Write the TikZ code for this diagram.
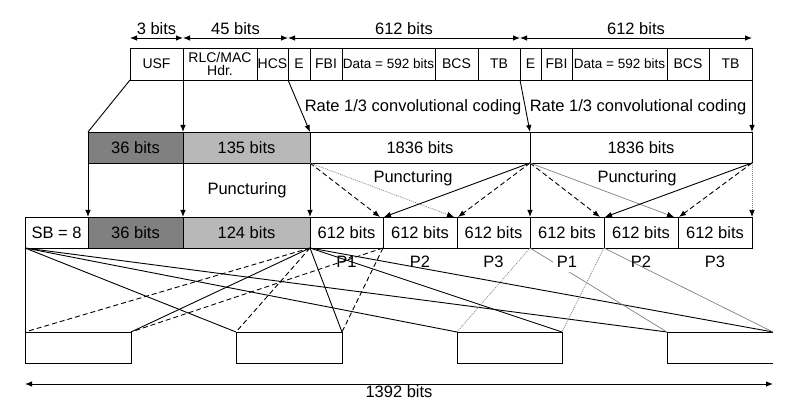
\documentclass[tikz,border=0pt]{standalone}
\usepackage{fontspec}
\setmainfont{Liberation Sans}
\usetikzlibrary{arrows.meta, calc, positioning}
\definecolor{darkfill}{gray}{0.5}
\definecolor{lightfill}{gray}{0.72}
\newcommand{\bigtxt}{\fontsize{16.5}{18}\selectfont}
\newcommand{\midtxt}{\fontsize{14}{14}\selectfont}
\newcommand{\smalltxt}{\fontsize{13.5}{14}\selectfont}

\begin{document}
\begin{tikzpicture}[x=1pt, y=-1pt, line width=0.9pt,
        >={Latex[length=7pt,width=5.5pt]},
        cell/.style={draw, minimum height=31pt, inner sep=0pt, outer sep=0pt, anchor=north west, font=\bigtxt},
        hcell/.style={cell, minimum height=32pt, font=\midtxt},
        dashline/.style={dash pattern=on 5pt off 3pt},
        dotline/.style={gray, line width=0.7pt, dash pattern=on 1pt off 1pt},
        thinline/.style={gray, line width=0.7pt},
        darktip/.style={-{Latex[length=7pt,width=5.5pt,color=black]}},
        plabel/.style={font=\bigtxt, below=4pt of #1}]
    \useasboundingbox (0,0) rectangle (798,403);

    % radio block
    \node[hcell, minimum width=53pt] (usf) at (130,48) {USF};
    \node[hcell, minimum width=74pt, align=center, font=\fontsize{14}{13}\selectfont] (hdr) at (usf.north east) {RLC/MAC\\Hdr.};
    \node[hcell, minimum width=31pt] (hcs) at (hdr.north east) {HCS};
    \node[hcell, minimum width=22pt] (ea) at (hcs.north east) {E};
    \node[hcell, minimum width=32pt] (fbia) at (ea.north east) {FBI};
    \node[hcell, minimum width=93pt, font=\smalltxt] (dataa) at (fbia.north east) {Data = 592 bits};
    \node[hcell, minimum width=43pt] (bcsa) at (dataa.north east) {BCS};
    \node[hcell, minimum width=42pt] (tba) at (bcsa.north east) {TB};
    \node[hcell, minimum width=21pt] (eb) at (tba.north east) {E};
    \node[hcell, minimum width=31pt] (fbib) at (eb.north east) {FBI};
    \node[hcell, minimum width=95pt, font=\smalltxt] (datab) at (fbib.north east) {Data = 592 bits};
    \node[hcell, minimum width=42pt] (bcsb) at (datab.north east) {BCS};
    \node[hcell, minimum width=43pt] (tbb) at (bcsb.north east) {TB};

    \coordinate (m0) at ($(usf.north west)+(0,-10)$);
    \coordinate (m1) at ($(usf.north east)+(0,-10)$);
    \coordinate (m2) at ($(hcs.north east)+(0,-10)$);
    \coordinate (m3) at ($(tba.north east)+(0,-10)$);
    \coordinate (m4) at ($(tbb.north east)+(0,-10)$);
    \draw[<->] (m0) -- node[above, font=\bigtxt] (n3) {3 bits} (m1);
    \draw[<->] (m1) -- node[above, font=\bigtxt] (n45) {45 bits} (m2);
    \draw[<->] (m2) -- node[above, font=\bigtxt] (n612a) {612 bits} (m3);
    \draw[<->] (m3) -- node[above, font=\bigtxt] (n612b) {612 bits} (m4);

    % coded block
    \node[cell, minimum width=95pt, fill=darkfill] (c36) at (88,132) {36 bits};
    \node[cell, minimum width=127pt, fill=lightfill] (c135) at (c36.north east) {135 bits};
    \node[cell, minimum width=220pt] (cod1) at (c135.north east) {1836 bits};
    \node[cell, minimum width=222pt] (cod2) at (cod1.north east) {1836 bits};

    \node[font=\bigtxt] (rate1) at (413,107) {Rate 1/3 convolutional coding};
    \node[font=\bigtxt] (rate2) at (638,107) {Rate 1/3 convolutional coding};

    \draw (usf.south west) -- (c36.north west);
    \draw[->] (usf.south east) -- (c36.north east);
    \draw[->] (hcs.south east) -- (c135.north east);
    \draw[->] (tba.south east) -- (cod1.north east);
    \draw[->] (tbb.south east) -- (cod2.north east);

    % punctured block
    \node[cell, minimum width=63pt] (sb) at (25,217) {SB = 8};
    \node[cell, minimum width=95pt, fill=darkfill] (b36) at (sb.north east) {36 bits};
    \node[cell, minimum width=127pt, fill=lightfill] (b124) at (b36.north east) {124 bits};
    \node[cell, minimum width=73pt] (q1) at (b124.north east) {612 bits};
    \node[cell, minimum width=74pt] (q2) at (q1.north east) {612 bits};
    \node[cell, minimum width=73pt] (q3) at (q2.north east) {612 bits};
    \node[cell, minimum width=74pt] (q4) at (q3.north east) {612 bits};
    \node[cell, minimum width=74pt] (q5) at (q4.north east) {612 bits};
    \node[cell, minimum width=74pt] (q6) at (q5.north east) {612 bits};

    \node[font=\bigtxt] (punc0) at (247,190) {Puncturing};
    \node[font=\bigtxt] (punc1) at (413,178) {Puncturing};
    \node[font=\bigtxt] (punc2) at (637,178) {Puncturing};

    \draw[->] (c36.south west) -- (b36.north west);
    \draw[->] (c36.south east) -- (b36.north east);
    \draw[->] (c135.south east) -- (b124.north east);
    \draw[->, dashline] (cod1.south west) -- ($(q1.north east)+(-3,0)$);
    \draw[dotline, darktip] (cod1.south west) -- ($(q2.north east)+(-3,0)$);
    \draw[->] (cod2.south west) -- ($(q1.north east)+(1,0)$);
    \draw[->, dashline] (cod2.south west) -- ($(q2.north east)+(1,0)$);
    \draw[->] (cod2.south west) -- (q3.north east);
    \draw[->, dashline] (cod2.south west) -- ($(q4.north east)+(-4,0)$);
    \draw[thinline, darktip] (cod2.south west) -- ($(q5.north east)+(-4,0)$);
    \draw[->] (cod2.south east) -- ($(q4.north east)+(1,0)$);
    \draw[->, dashline] (cod2.south east) -- ($(q5.north east)+(1,0)$);
    \draw[dotline, darktip] (cod2.south east) -- (q6.north east);

    % bursts
    \node[cell, minimum width=106pt] (bu1) at (25,332) {};
    \node[cell, minimum width=106pt] (bu2) at (236,332) {};
    \node[cell, minimum width=105pt] (bu3) at (457,332) {};
    \node[cell, draw=none, minimum width=106pt] (bu4) at (667,332) {};
    \draw (bu4.north east) -- (bu4.north west) -- (bu4.south west) -- (bu4.south east);

    \draw (sb.south west) -- (bu1.north west);
    \foreach \b in {bu2,bu3,bu4}
        \draw (sb.south west) -- (\b.north west);
    \foreach \b in {bu1,bu2,bu3,bu4}
        \draw (q1.south west) -- (\b.north east);
    \foreach \b in {bu1,bu2} {
        \draw[dashline] (q1.south west) -- (\b.north west);
        \draw[dashline] (q1.south east) -- (\b.north east);
    }
    \draw[dotline] (q3.south east) -- (bu3.north west);
    \draw[thinline] (q3.south east) -- (bu4.north west);
    \draw[dotline] (q4.south east) -- (bu3.north east);
    \draw[thinline] (q4.south east) -- (bu4.north east);

    \node[plabel=q1] (p1a) {P1};
    \node[plabel=q2] (p2a) {P2};
    \node[plabel=q3] (p3a) {P3};
    \node[plabel=q4, fill=white, inner sep=4pt] (p1b) {P1};
    \node[plabel=q5] (p2b) {P2};
    \node[plabel=q6] (p3b) {P3};

    \coordinate (t0) at (25,384);
    \coordinate (t1) at (773,384);
    \draw[<->] (t0) -- node[below=0pt, inner sep=1pt, font=\bigtxt] (ntot) {1392 bits} (t1);
\end{tikzpicture}
\end{document}
